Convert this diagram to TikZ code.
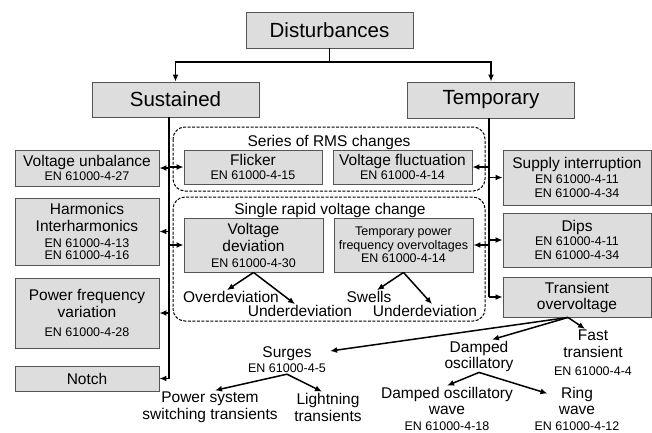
\documentclass[tikz,border=0pt]{standalone}
\usepackage{fontspec}
\setmainfont{Liberation Sans}
\usepackage{tikz}
\usetikzlibrary{arrows.meta}
\newcommand{\topfont}{\fontsize{20.5}{24}\selectfont}
\newcommand{\midfont}{\fontsize{15.5}{17}\selectfont}
\newcommand{\enfont}{\fontsize{12.5}{14}\selectfont}
\definecolor{boxfill}{RGB}{221,221,221}
\definecolor{boxline}{RGB}{85,85,85}
\tikzset{
        box/.style={draw=boxline,fill=boxfill,line width=0.9pt,inner sep=0pt,align=center,font=\midfont},
        lbl/.style={inner sep=1pt,align=center,font=\midfont},
        group/.style={draw,line width=1pt,rounded corners=12pt,dash pattern=on 3pt off 1.5pt},
        arr/.style={-{Latex[length=7pt,width=6pt]},line width=1.5pt},
        trunk/.style={line width=1.6pt},
}

\begin{document}
\begin{tikzpicture}[x=1pt,y=-1pt]
        \useasboundingbox (0,0) rectangle (652,432);
        \draw[group] (173,127) rectangle (485,191);
        \draw[group] (173,197) rectangle (485,321);
        \node[lbl] (G-1) at (329,142) {Series of RMS changes};
        \node[lbl] (G-2) at (330,210) {Single rapid voltage change};

        \node[box,font=\topfont,minimum width=167pt,minimum height=36pt] (dist) at (329.5,30) {Disturbances};
        \node[box,font=\topfont,minimum width=167pt,minimum height=35pt] (sus) at (175.5,99.5) {Sustained};
        \node[box,font=\topfont,minimum width=167pt,minimum height=36pt] (tem) at (491,100) {Temporary};

        \node[box,minimum width=144pt,minimum height=36pt] (L-1) at (87,168) {Voltage unbalance\\[-3pt]{\enfont EN 61000-4-27}};
        \node[box,minimum width=144pt,minimum height=67pt] (L-2) at (87,231.5) {Harmonics\\Interharmonics\\[-1pt]{\enfont EN 61000-4-13}\\[-5pt]{\enfont EN 61000-4-16}};
        \node[box,minimum width=144pt,minimum height=70pt] (L-3) at (87,313) {Power frequency\\variation\\[1.5pt]{\enfont EN 61000-4-28}};
        \node[box,minimum width=144pt,minimum height=25pt] (L-4) at (87,378.5) {Notch};

        \node[box,minimum width=138pt,minimum height=34pt] (M-1) at (253,167) {Flicker\\[-3pt]{\enfont EN 61000-4-15}};
        \node[box,minimum width=139pt,minimum height=34pt] (M-2) at (402.5,167) {Voltage fluctuation\\[-3pt]{\enfont EN 61000-4-14}};
        \node[box,minimum width=139pt,minimum height=54pt] (M-3) at (253.5,245) {Voltage\\deviation\\[-1pt]{\enfont EN 61000-4-30}};
        \node[box,font=\enfont,minimum width=139pt,minimum height=54pt] (M-4) at (403.5,245) {Temporary power\\[-0.5pt]frequency overvoltages\\[-0.5pt]EN 61000-4-14};

        \node[box,minimum width=148pt,minimum height=55pt] (R-1) at (577,177.5) {Supply interruption\\[-2pt]{\enfont EN 61000-4-11}\\[-3pt]{\enfont EN 61000-4-34}};
        \node[box,minimum width=148pt,minimum height=54pt] (R-2) at (577,240) {Dips\\[-3pt]{\enfont EN 61000-4-11}\\[-3pt]{\enfont EN 61000-4-34}};
        \node[box,minimum width=148pt,minimum height=40pt] (R-3) at (577,297) {Transient\\[-1pt]overvoltage};

        \node[lbl] (over) at (231,297) {Overdeviation};
        \node[lbl] (under-1) at (300,311) {Underdeviation};
        \node[lbl] (swells) at (369,297) {Swells};
        \node[lbl] (under-2) at (425,311) {Underdeviation};

        \node[lbl] (surges) at (287,360) {Surges\\[-2pt]{\enfont EN 61000-4-5}};
        \node[lbl] (damped) at (479,356) {Damped\\[-1pt]oscillatory};
        \node[lbl] (fast) at (593,353) {Fast\\transient\\[1pt]{\enfont EN 61000-4-4}};
        \node[lbl] (wave-1) at (447,408.5) {Damped oscillatory\\[-1pt]wave\\[-1pt]{\enfont EN 61000-4-18}};
        \node[lbl] (wave-2) at (577,408.5) {Ring\\[-1pt]wave\\[-1pt]{\enfont EN 61000-4-12}};
        \node[lbl] (power) at (210,407) {Power system\\switching transients};
        \node[lbl] (light) at (328,407) {Lightning\\transients};

        \coordinate (split) at (329.5,62);
        \draw[trunk] (dist.south) -- (split);
        \draw[arr] (split) -| (sus.north);
        \draw[arr] (split) -| (tem.north);

        \coordinate (LB) at (169,378.5);
        \coordinate (RB) at (489,297);
        \draw[trunk] (sus.south -| LB) -- (LB);
        \draw[trunk] (tem.south -| RB) -- (RB);
        \foreach \n in {1,...,4}{
          \draw[arr] (LB |- L-\n) -- (L-\n.east);
        }
        \foreach \n in {1,3}{
          \draw[arr] (LB |- M-\n) -- (M-\n.west);
        }
        \foreach \n in {2,4}{
          \draw[arr] (RB |- M-\n) -- (M-\n.east);
        }
        \foreach \n in {1,...,3}{
          \draw[arr] (RB |- R-\n) -- (R-\n.west);
        }

        \draw[arr] (M-3.south) -- ([xshift=-4pt]over.north);
        \draw[arr] (M-3.south) -- ([xshift=-5pt]under-1.north);
        \draw[arr] (M-4.south) -- ([xshift=8pt]swells.north);
        \draw[arr] (M-4.south) -- ([xshift=7pt]under-2.north);

        \coordinate (fan) at ([xshift=-9pt]R-3.south);
        \draw[arr] (fan) -- ([shift={(3pt,9pt)}]surges.east);
        \draw[arr] (fan) -- ([xshift=13pt]damped.north);
        \draw[arr] (fan) -- ([xshift=-8pt]fast.north);
        \draw[arr] (damped.south) -- (wave-1.north);
        \draw[arr] (damped.south) -- ([shift={(14pt,15pt)}]wave-2.west);
        \draw[arr] (surges.south) -- ([xshift=5pt]power.north);
        \draw[arr] (surges.south) -- ([xshift=-6pt]light.north);
\end{tikzpicture}
\end{document}
